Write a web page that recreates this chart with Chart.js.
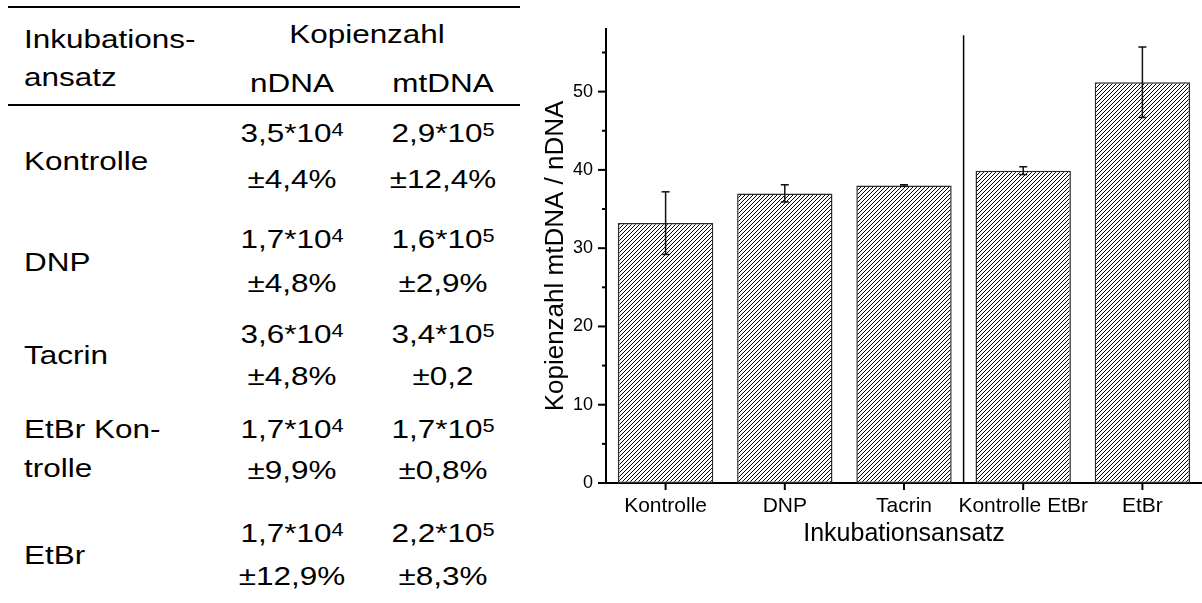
<!DOCTYPE html>
<html lang="de">
<head>
<meta charset="utf-8">
<title>Kopienzahl mtDNA / nDNA</title>
<script src="https://cdn.jsdelivr.net/npm/chart.js@4.4.1/dist/chart.umd.min.js"></script>
<style>
  html, body { margin: 0; padding: 0; background: #fff; overflow: hidden; }
  body { width: 1202px; height: 603px; position: relative; font-family: 'Liberation Sans', Arial, sans-serif; color: #000; }
  .rule { position: absolute; left: 8px; width: 512px; height: 2px; background: #000; }
  .cell { position: absolute; font-size: 26px; line-height: 26px; white-space: nowrap; }
  .left { transform: scaleX(1.21); transform-origin: 0 50%; }
  .mid  { width: 200px; text-align: center; transform: scaleX(1.21); transform-origin: 50% 50%; }
  .sup  { font-size: 18px; vertical-align: 6px; line-height: 0; }
  #chartBox { position: absolute; left: 500px; top: 0; width: 702px; height: 603px; }
</style>
</head>
<body>
<div class="rule" style="top:6px"></div>
<div class="rule" style="top:104px"></div>
<div id="table"></div>
<div id="chartBox"><canvas id="ratioChart"></canvas></div>

<script>
'use strict';

// ── Chart data ──────────────────────────────────────────────────────────────
const categories  = ['Kontrolle', 'DNP', 'Tacrin', 'Kontrolle EtBr', 'EtBr'];
const ratioValues = [33.2, 37.0, 38.0, 39.9, 51.2];
const ratioErrors = [4.0, 1.1, 0.1, 0.5, 4.5];
const yTickValues = [0, 5, 10, 15, 20, 25, 30, 35, 40, 45, 50, 55];

// ── Table data ──────────────────────────────────────────────────────────────
const rowLabels   = [['Kontrolle'], ['DNP'], ['Tacrin'], ['EtBr Kon-', 'trolle'], ['EtBr']];
const nDnaCopies  = [['3,5', '4'], ['1,7', '4'], ['3,6', '4'], ['1,7', '4'], ['1,7', '4']];
const nDnaErrors  = ['±4,4%', '±4,8%', '±4,8%', '±9,9%', '±12,9%'];
const mtDnaCopies = [['2,9', '5'], ['1,6', '5'], ['3,4', '5'], ['1,7', '5'], ['2,2', '5']];
const mtDnaErrors = ['±12,4%', '±2,9%', '±0,2', '±0,8%', '±8,3%'];

// ── Table layout (baselines in px) ──────────────────────────────────────────
const BASE = 22;              // baseline offset inside a 26px line box
const COL_N = 292, COL_MT = 443, COL_LABEL = 24;
const labelBaselines = [[170], [271], [364], [438, 477], [564]];
const valueBaselines = [[142, 188], [248, 292], [343, 385], [438, 479], [542, 585]];

const table = document.getElementById('table');
const put = (html, x, baseline, centred) => {
  const d = document.createElement('div');
  d.className = 'cell ' + (centred ? 'mid' : 'left');
  d.style.left = (centred ? x - 100 : x) + 'px';
  d.style.top = (baseline - BASE) + 'px';
  d.innerHTML = html;
  table.appendChild(d);
};
const copies = ([m, e]) => `${m}*10<span class="sup">${e}</span>`;

put('Inkubations-', COL_LABEL, 48, false);
put('ansatz', COL_LABEL, 86, false);
put('Kopienzahl', 367, 43, true);
put('nDNA', COL_N, 92, true);
put('mtDNA', COL_MT, 92, true);

rowLabels.forEach((lines, i) => {
  lines.forEach((t, k) => put(t, COL_LABEL, labelBaselines[i][k], false));
  const [b1, b2] = valueBaselines[i];
  put(copies(nDnaCopies[i]), COL_N, b1, true);
  put(nDnaErrors[i], COL_N, b2, true);
  put(copies(mtDnaCopies[i]), COL_MT, b1, true);
  put(mtDnaErrors[i], COL_MT, b2, true);
});

// ── Hatch fill for the bars ─────────────────────────────────────────────────
const makeHatch = () => {
  const c = document.createElement('canvas');
  c.width = 4; c.height = 4;
  const g = c.getContext('2d');
  g.fillStyle = '#fff';
  g.fillRect(0, 0, 4, 4);
  g.strokeStyle = '#000';
  g.lineWidth = 1;
  g.beginPath();
  g.moveTo(0, 4);  g.lineTo(4, 0);
  g.moveTo(-1, 1); g.lineTo(1, -1);
  g.moveTo(3, 5);  g.lineTo(5, 3);
  g.stroke();
  return g.createPattern(c, 'repeat');
};

const FONT = "'Liberation Sans', Arial, sans-serif";

// tick marks, divider line and error bars
const extras = {
  id: 'extras',
  afterDatasetsDraw(chart) {
    const { ctx, scales: { x, y } } = chart;
    const seg = (x1, y1, x2, y2) => { ctx.beginPath(); ctx.moveTo(x1, y1); ctx.lineTo(x2, y2); ctx.stroke(); };
    ctx.save();
    ctx.strokeStyle = '#111';
    ctx.lineWidth = 1.5;
    ratioValues.forEach((v, i) => {
      const px = x.getPixelForValue(i);
      const top = y.getPixelForValue(v + ratioErrors[i]);
      const bot = y.getPixelForValue(v - ratioErrors[i]);
      seg(px, top, px, bot);
      seg(px - 4, top, px + 4, top);
      seg(px - 4, bot, px + 4, bot);
    });
    ctx.restore();
  },
  afterDraw(chart) {
    const { ctx, chartArea: a, scales: { x, y } } = chart;
    const seg = (x1, y1, x2, y2) => { ctx.beginPath(); ctx.moveTo(x1, y1); ctx.lineTo(x2, y2); ctx.stroke(); };
    ctx.save();
    ctx.strokeStyle = '#000';
    ctx.lineWidth = 2;
    yTickValues.forEach(v => {
      const py = y.getPixelForValue(v);
      seg(a.left - (v % 10 === 0 ? 8 : 4), py, a.left, py);
    });
    categories.forEach((c, i) => {
      const px = x.getPixelForValue(i);
      seg(px, a.bottom, px, a.bottom + 7);
    });
    // separator between the two experiment series
    const dx = (x.getPixelForValue(2) + x.getPixelForValue(3)) / 2;
    ctx.lineWidth = 1.5;
    seg(dx, y.getPixelForValue(57.2), dx, a.bottom);
    ctx.restore();
  }
};

new Chart(document.getElementById('ratioChart'), {
  type: 'bar',
  data: {
    labels: categories,
    datasets: [{
      data: ratioValues,
      backgroundColor: makeHatch(),
      borderColor: '#2a2a2a',
      borderWidth: 1.5,
      borderSkipped: false,
      barPercentage: 0.8,
      categoryPercentage: 1.0,
    }],
  },
  options: {
    responsive: true,
    maintainAspectRatio: false,
    animation: false,
    layout: { padding: { top: 29, left: 0, right: 0, bottom: 0 } },
    plugins: { legend: { display: false }, tooltip: { enabled: false } },
    scales: {
      x: {
        grid: { display: false, drawTicks: false },
        border: { display: true, color: '#000', width: 2 },
        ticks: { color: '#000', padding: 11, maxRotation: 0, autoSkip: false, font: { family: FONT, size: 21 } },
        title: { display: true, text: 'Inkubationsansatz', color: '#000', padding: { top: 0, bottom: 54 }, font: { family: FONT, size: 25 } },
        afterFit: (s) => { s.height = 120; },
      },
      y: {
        min: 0,
        max: 58,
        grid: { display: false, drawTicks: false },
        border: { display: true, color: '#000', width: 2 },
        ticks: {
          stepSize: 5,
          color: '#000',
          padding: 13,
          font: { family: FONT, size: 18 },
          callback: (v) => (v % 10 === 0 ? v : ''),
        },
        afterBuildTicks: (s) => { s.ticks = yTickValues.map(v => ({ value: v })); },
        title: { display: true, text: 'Kopienzahl mtDNA / nDNA', color: '#000', padding: { top: 40, bottom: 0 }, font: { family: FONT, size: 26 } },
        afterFit: (s) => { s.width = 106; },
      },
    },
  },
  plugins: [extras],
});
</script>
</body>
</html>
